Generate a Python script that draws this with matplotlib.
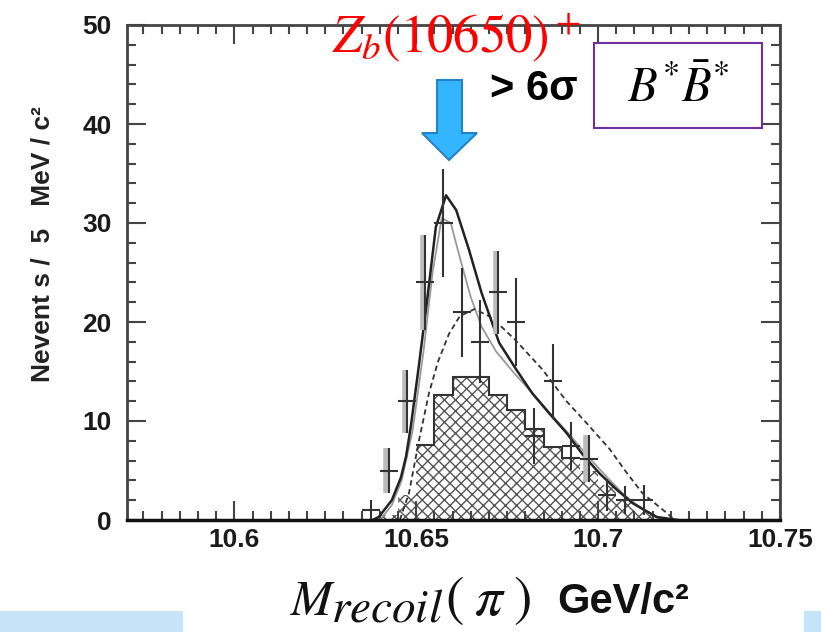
import numpy as np
import matplotlib
matplotlib.use("Agg")
import matplotlib.pyplot as plt
from matplotlib.ticker import MultipleLocator
from matplotlib.patches import Polygon, Rectangle

# data points (bin centres, events, errors)
x_data = [10.6375, 10.6425, 10.6475, 10.6525, 10.6575, 10.6625, 10.6675, 10.6725,
          10.6775, 10.6825, 10.6875, 10.6925, 10.6975, 10.7025, 10.7075, 10.7125]
y_data = [1.0, 5.0, 12.0, 24.0, 30.0, 21.0, 18.0, 23.0,
          20.0, 8.5, 14.0, 7.5, 6.2, 2.5, 2.0, 2.0]
y_err = [1.0, 2.3, 3.2, 4.8, 5.5, 4.5, 4.2, 4.2,
         4.4, 2.8, 3.8, 2.4, 2.4, 1.6, 1.4, 1.5]
grey_idx = [1, 2, 3, 7, 12]

# hatched histogram
hist_edges = [10.64, 10.645, 10.65, 10.655, 10.66, 10.665, 10.67, 10.675, 10.68,
              10.685, 10.69, 10.695, 10.70, 10.705, 10.71, 10.715, 10.72]
hist_vals = [0.5, 2.5, 7.6, 12.6, 14.4, 14.4, 12.6, 11.1, 9.2,
             7.4, 6.3, 5.0, 3.5, 2.0, 0.8, 0.2]

# total fit (solid dark)
fit_x = [10.638, 10.6397, 10.6433, 10.6458, 10.6472, 10.6485, 10.6507, 10.653, 10.6554,
         10.6582, 10.661, 10.6645, 10.668, 10.6728, 10.6775, 10.6819, 10.6865, 10.6913,
         10.6958, 10.7004, 10.705, 10.7095, 10.7161, 10.722]
fit_y = [0, 0.3, 2.0, 4.3, 6.4, 9.4, 15.5, 22.2, 29.6,
         32.8, 31.3, 27.3, 22.9, 17.9, 15.2, 12.8, 10.8, 8.8,
         6.6, 4.7, 3.1, 1.7, 0.3, 0]

# second solid curve (light)
alt_x = [10.640, 10.6433, 10.646, 10.649, 10.652, 10.6545, 10.657, 10.6595, 10.662,
         10.665, 10.668, 10.672, 10.677, 10.682, 10.687, 10.692, 10.697, 10.702,
         10.707, 10.712, 10.717, 10.72]
alt_y = [0, 1.5, 4.0, 9.0, 17.0, 25.0, 30.5, 30.0, 26.5,
         22.5, 19.5, 17.0, 14.8, 12.8, 10.7, 8.7, 6.5, 4.5,
         2.6, 1.1, 0.2, 0]

# dashed curve
dash_x = [10.6455, 10.648, 10.6508, 10.6535, 10.656, 10.659, 10.662, 10.666, 10.670,
          10.6735, 10.6772, 10.6847, 10.6913, 10.6968, 10.7031, 10.7078, 10.7122,
          10.7189, 10.721]
dash_y = [0, 2.7, 8.1, 12.8, 16.0, 18.8, 20.6, 21.3, 20.6,
          19.5, 18.2, 15.2, 12.0, 9.8, 7.2, 4.8, 2.7, 0.7, 0]

W, H = 821, 632
plt.rcParams['mathtext.fontset'] = 'stix'
plt.rcParams['hatch.linewidth'] = 1.0
sans = ['Liberation Sans', 'DejaVu Sans']

def fx(px):
    return px / W

def fy(py):
    return 1 - py / H

fig = plt.figure(figsize=(W / 100, H / 100), dpi=100)
ax = fig.add_axes([fx(127), fy(520), fx(780) - fx(127), fy(25) - fy(520)])

ax.stairs(hist_vals, hist_edges, fill=True, facecolor='none', edgecolor='#555555',
          hatch='xxx', linewidth=0)
ax.stairs(hist_vals[2:11], hist_edges[2:12], color='#333333', linewidth=1.5, baseline=None)

ax.plot(alt_x, alt_y, color='#9a9a9a', lw=1.3)
ax.plot(dash_x, dash_y, color='#333333', lw=1.3, ls=(0, (3, 2)))
ax.plot(fit_x, fit_y, color='#222222', lw=1.8)

for i in grey_idx:
    ax.plot([x_data[i] - 0.0007] * 2, [y_data[i] - y_err[i], y_data[i] + y_err[i]],
            color='#bbbbbb', lw=4, solid_capstyle='butt')
ax.errorbar(x_data, y_data, yerr=y_err, xerr=0.0025, fmt='none', ecolor='#333333',
            elinewidth=1.5, capsize=0)

ax.set_xlim(10.5705, 10.75)
ax.set_ylim(0, 50)
ax.set_xticks([10.6, 10.65, 10.7, 10.75])
ax.set_xticklabels(['10.6', '10.65', '10.7', '10.75'])
ax.set_yticks([0, 10, 20, 30, 40, 50])
ax.xaxis.set_minor_locator(MultipleLocator(0.005))
ax.yaxis.set_minor_locator(MultipleLocator(2))
ax.tick_params(which='both', direction='in', top=True, right=True, colors='#444444',
               labelcolor='#1a1a1a', width=1.5)
ax.tick_params(which='major', length=14)
ax.tick_params(which='minor', length=6.5)
ax.tick_params(axis='y', pad=11)
ax.tick_params(axis='x', pad=6)
for lab in ax.get_xticklabels() + ax.get_yticklabels():
    lab.set_family(sans)
    lab.set_fontsize(19)
    lab.set_fontweight('bold')
for s in ['left', 'top', 'right']:
    ax.spines[s].set_color('#444444')
    ax.spines[s].set_linewidth(2)
ax.spines['bottom'].set_color('#111111')
ax.spines['bottom'].set_linewidth(2.5)

fig.text(fx(42), fy(244), 'Nevent s /  5   MeV / c²', rotation=90, ha='center',
         va='center', family=sans, fontsize=19, fontweight='bold', color='#222222')

# annotations
fig.text(fx(457), fy(52), r'$Z_b(10650)^+$', color='red', fontsize=38,
         ha='center', va='baseline')
arrow = [(437, 80), (462, 80), (462, 133), (477, 133), (449, 160), (422, 133), (437, 133)]
fig.patches.append(Polygon([(fx(a), fy(b)) for a, b in arrow], closed=True,
                           transform=fig.transFigure, facecolor='#33b5ff',
                           edgecolor='#2383c4', linewidth=1.5, zorder=5))
fig.text(fx(534), fy(89), '> 6σ', family=sans, fontsize=30, fontweight='bold',
         ha='center', va='center', color='black')
fig.patches.append(Rectangle((fx(594), fy(128)), fx(762) - fx(594), fy(43) - fy(128),
                             transform=fig.transFigure, facecolor='white',
                             edgecolor='#7030a0', linewidth=1.5, zorder=5))
fig.text(fx(678), fy(88), r'$B^{*}\bar{B}^{*}$', fontsize=35, ha='center',
         va='center', color='black', zorder=6)

# x label
fig.text(fx(290), fy(615), r'$M$', fontsize=36, ha='left', va='baseline', color='#111111')
fig.text(fx(331), fy(621), r'$recoil$', fontsize=34, ha='left', va='baseline',
         color='#111111')
fig.text(fx(445), fy(615), r'$(\;\pi\;)$', fontsize=40, ha='left', va='baseline',
         color='#111111')
fig.text(fx(557), fy(613), 'GeV/c²', family=sans, fontsize=30, fontweight='bold',
         ha='left', va='baseline', color='#111111')

# light blue bars at bottom edge
fig.patches.append(Rectangle((0, 0), fx(183), fy(611), transform=fig.transFigure,
                             facecolor='#c6e4f7', edgecolor='none'))
fig.patches.append(Rectangle((fx(804), 0), 1 - fx(804), fy(611),
                             transform=fig.transFigure, facecolor='#c6e4f7',
                             edgecolor='none'))

fig.savefig('out.png', dpi=100)
